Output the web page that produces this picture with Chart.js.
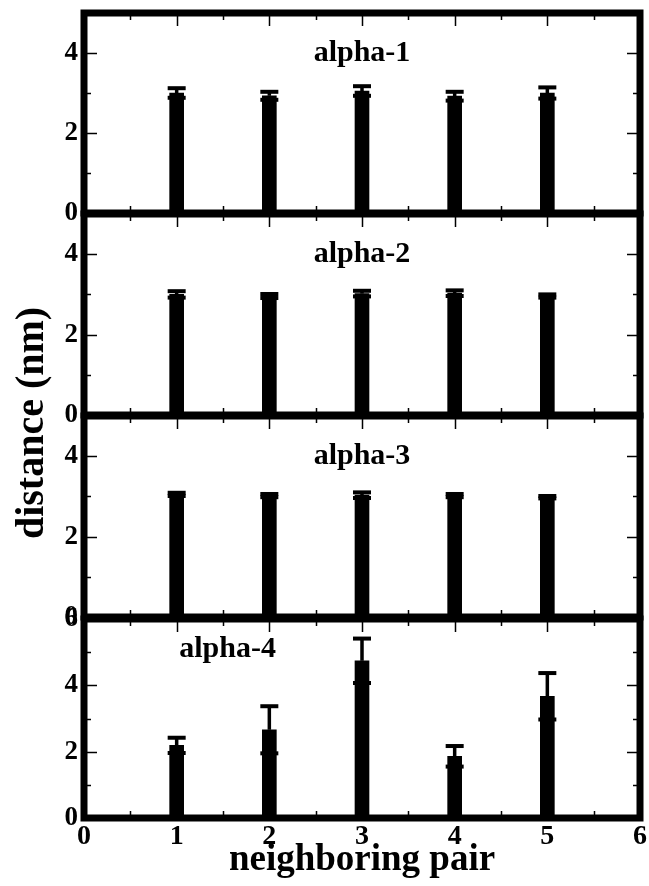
<!DOCTYPE html>
<html>
<head>
<meta charset="utf-8">
<title>distance per neighboring pair</title>
<script src="https://cdn.jsdelivr.net/npm/chart.js@4/dist/chart.umd.min.js"></script>
<style>
  html, body { margin: 0; padding: 0; background: #fff; }
  #wrap { position: relative; width: 649px; height: 886px; overflow: hidden; background: #fff; }
  #wrap canvas { position: absolute; left: 0; top: 0; }
  .axis-title {
    position: absolute;
    font-family: "Liberation Serif", "Times New Roman", serif;
    font-weight: bold;
    color: #000;
    white-space: nowrap;
    text-align: center;
  }
  #xTitle { left: 84px; width: 556px; top: 838px; height: 40px; line-height: 40px; font-size: 37px; }
  #yTitle { left: -120px; top: 401px; width: 300px; height: 44px; line-height: 44px; font-size: 40px;
            transform: rotate(-90deg); transform-origin: 150px 22px; }
</style>
</head>
<body>
<div id="wrap">
  <canvas id="p1" width="649" height="886"></canvas>
  <canvas id="p2" width="649" height="886"></canvas>
  <canvas id="p3" width="649" height="886"></canvas>
  <canvas id="p4" width="649" height="886"></canvas>
  <div class="axis-title" id="xTitle">neighboring pair</div>
  <div class="axis-title" id="yTitle">distance (nm)</div>
</div>
<script>
// ---- data -------------------------------------------------------------
const pairs = [1, 2, 3, 4, 5];
const panelTitles = ['alpha-1', 'alpha-2', 'alpha-3', 'alpha-4'];

const alpha1Dist = [3.00, 2.93, 3.05, 2.92, 3.00];
const alpha1Err  = [0.12, 0.10, 0.12, 0.11, 0.14];
const alpha2Dist = [3.00, 2.96, 3.02, 3.03, 2.96];
const alpha2Err  = [0.08, 0.05, 0.07, 0.07, 0.04];
const alpha3Dist = [3.05, 3.02, 3.03, 3.02, 2.98];
const alpha3Err  = [0.04, 0.04, 0.07, 0.04, 0.03];
const alpha4Dist = [2.19, 2.66, 4.74, 1.86, 3.67];
const alpha4Err  = [0.23, 0.71, 0.67, 0.31, 0.70];

const xTickLabels = [0, 1, 2, 3, 4, 5, 6];
const yTickLabelsUpper = [0, 2, 4];
const yTickLabelsLower = [0, 2, 4, 6];

// ---- layout -----------------------------------------------------------
const W = 649, H = 886;
const PLOT_LEFT = 84, PLOT_RIGHT = 640;
const FONT = '"Liberation Serif", "Times New Roman", serif';

const panels = [
  { id: 'p1', title: panelTitles[0], dist: alpha1Dist, err: alpha1Err, yMax: 5, yTicks: yTickLabelsUpper,
    top: 13, bottom: 213, titleAt: [3, 4], showX: false },
  { id: 'p2', title: panelTitles[1], dist: alpha2Dist, err: alpha2Err, yMax: 5, yTicks: yTickLabelsUpper,
    top: 214, bottom: 415, titleAt: [3, 4], showX: false },
  { id: 'p3', title: panelTitles[2], dist: alpha3Dist, err: alpha3Err, yMax: 5, yTicks: yTickLabelsUpper,
    top: 416, bottom: 617, titleAt: [3, 4], showX: false },
  { id: 'p4', title: panelTitles[3], dist: alpha4Dist, err: alpha4Err, yMax: 6, yTicks: yTickLabelsLower,
    top: 619, bottom: 818, titleAt: [1.55, 5.1], showX: true }
];

// frame, inward ticks, error bars and the panel label
function makeDecor(p) {
  return {
    id: 'panelDecor_' + p.id,
    afterDatasetsDraw(chart) {
      const ctx = chart.ctx;
      const xs = chart.scales.x, ys = chart.scales.y;
      const a = chart.chartArea;
      ctx.save();
      ctx.fillStyle = '#000';
      ctx.strokeStyle = '#000';

      // error bars: stem up to mean+err, caps at mean+err and mean-err
      const ds = chart.data.datasets[0];
      ds.data.forEach((d, i) => {
        const e = p.err[i];
        const cx = xs.getPixelForValue(d.x);
        const yHi = ys.getPixelForValue(d.y + e);
        const yMid = ys.getPixelForValue(d.y);
        const yLo = ys.getPixelForValue(d.y - e);
        ctx.fillRect(cx - 1.75, yHi, 3.5, yMid - yHi);
        ctx.fillRect(cx - 9, yHi - 2, 18, 4);
        ctx.fillRect(cx - 9, yLo - 2, 18, 4);
      });

      // minor/major ticks pointing into the plot on all four sides
      ctx.lineWidth = 1.5;
      ctx.beginPath();
      for (let v = 1; v < p.yMax; v += 1) {
        const y = Math.round(ys.getPixelForValue(v)) + 0.5;
        const len = (v % 2 === 0) ? 13 : 7;
        ctx.moveTo(a.left, y); ctx.lineTo(a.left + len, y);
        ctx.moveTo(a.right, y); ctx.lineTo(a.right - len, y);
      }
      for (let v = 0.5; v < 6; v += 0.5) {
        const x = Math.round(xs.getPixelForValue(v)) + 0.5;
        const len = Number.isInteger(v) ? 13 : 7;
        ctx.moveTo(x, a.top); ctx.lineTo(x, a.top + len);
        ctx.moveTo(x, a.bottom); ctx.lineTo(x, a.bottom - len);
      }
      ctx.stroke();

      // thick frame
      ctx.lineWidth = 7;
      ctx.strokeRect(a.left, a.top, a.right - a.left, a.bottom - a.top);

      // panel label
      ctx.font = 'bold 30px ' + FONT;
      ctx.textAlign = 'center';
      ctx.textBaseline = 'middle';
      ctx.fillText(p.title, xs.getPixelForValue(p.titleAt[0]), ys.getPixelForValue(p.titleAt[1]));
      ctx.restore();
    }
  };
}

panels.forEach(p => {
  new Chart(document.getElementById(p.id), {
    type: 'bar',
    data: {
      datasets: [{
        data: pairs.map((x, i) => ({ x: x, y: p.dist[i] })),
        backgroundColor: '#000',
        borderWidth: 0,
        barThickness: 14
      }]
    },
    options: {
      responsive: false,
      animation: false,
      devicePixelRatio: 1,
      events: [],
      layout: { padding: { top: p.top, bottom: p.showX ? 0 : H - p.bottom, left: 0, right: W - PLOT_RIGHT } },
      plugins: { legend: { display: false }, tooltip: { enabled: false }, title: { display: false } },
      scales: {
        x: {
          type: 'linear', min: 0, max: 6, offset: false, display: p.showX,
          grid: { display: false, drawTicks: false }, border: { display: false },
          ticks: { font: { family: FONT, size: 28, weight: 'bold' }, color: '#000', padding: 2, maxRotation: 0 },
          afterBuildTicks: s => { s.ticks = xTickLabels.map(v => ({ value: v })); },
          afterFit: s => {
            if (p.showX) s.height = H - p.bottom;
            s.paddingLeft = 0; s.paddingRight = 0;
          }
        },
        y: {
          type: 'linear', min: 0, max: p.yMax,
          grid: { display: false, drawTicks: false }, border: { display: false },
          ticks: { font: { family: FONT, size: 27, weight: 'bold' }, color: '#000', padding: 6 },
          afterBuildTicks: s => { s.ticks = p.yTicks.map(v => ({ value: v })); },
          afterFit: s => { s.width = PLOT_LEFT; s.paddingTop = 0; s.paddingBottom = 0; }
        }
      }
    },
    plugins: [makeDecor(p)]
  });
});
</script>
</body>
</html>
